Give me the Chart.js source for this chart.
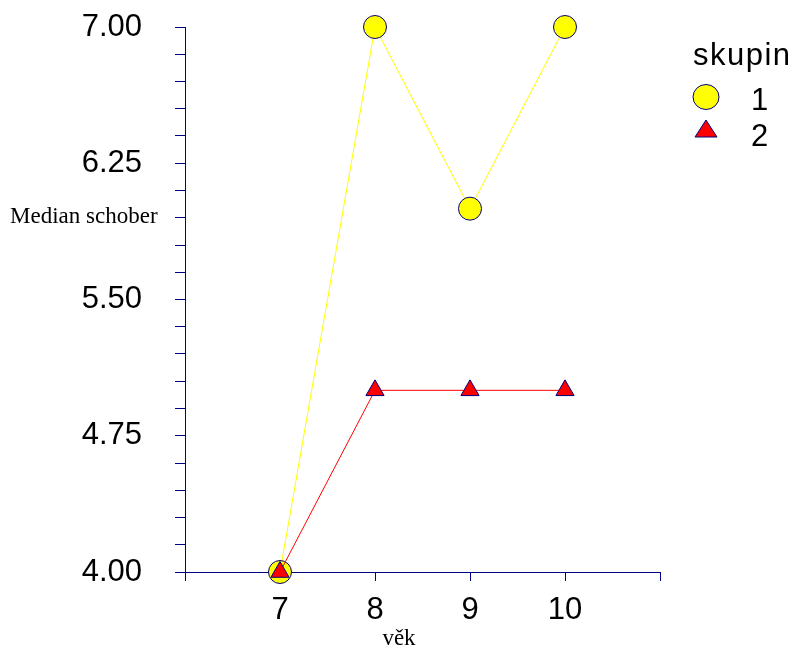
<!DOCTYPE html>
<html><head><meta charset="utf-8">
<script src="https://cdn.jsdelivr.net/npm/chart.js@4"></script>
<style>html,body{margin:0;padding:0;background:#fff;overflow:hidden}</style>
</head><body>
<canvas id="c" width="795" height="646" style="width:795px;height:646px;display:block"></canvas>
<script>
const ages = [7, 8, 9, 10];
const group1 = [4.00, 7.00, 6.00, 7.00];
const group2 = [4.00, 5.00, 5.00, 5.00];
const seriesNames = ['1', '2'];
const legendTitle = 'skupin';
const xTitle = 'věk';
const yTitle = 'Median schober';
const xTickValues = [6, 7, 8, 9, 10, 11];
const xTickLabels = ['', '7', '8', '9', '10', ''];
const yMajorLabels = ['4.00', '4.75', '5.50', '6.25', '7.00'];
const yMin = 4, yMax = 7, yMinorStep = 0.15;

const NAVY = '#000080';

function pts(ys) { return ages.map((a, i) => ({x: a, y: ys[i]})); }

const yTickValues = [];
for (let v = yMin; v <= yMax + 1e-9; v += yMinorStep) yTickValues.push(Math.round(v * 100) / 100);

const overlay = {
  id: 'overlay',
  afterDraw(chart) {
    const ctx = chart.ctx;
    ctx.save();
    ctx.fillStyle = '#000';
    ctx.textBaseline = 'alphabetic';
    ctx.font = '23px "Liberation Serif", "Times New Roman", serif';
    ctx.textAlign = 'left';
    ctx.fillText(yTitle, 10, 223);
    ctx.textAlign = 'center';
    ctx.fillText(xTitle, 399, 645);
    // legend
    ctx.textAlign = 'left';
    ctx.font = '31px "Liberation Sans", Arial, sans-serif';
    ctx.letterSpacing = '1.5px';
    ctx.fillText(legendTitle, 693, 65);
    ctx.letterSpacing = '0px';
    ctx.fillText(seriesNames[0], 751, 110);
    ctx.fillText(seriesNames[1], 751, 146);
    ctx.lineWidth = 1;
    ctx.strokeStyle = NAVY;
    ctx.fillStyle = '#ffff00';
    ctx.beginPath();
    ctx.ellipse(706, 97, 13, 12.5, 0, 0, Math.PI * 2);
    ctx.fill(); ctx.stroke();
    ctx.fillStyle = '#ff0000';
    ctx.beginPath();
    ctx.moveTo(706, 120);
    ctx.lineTo(717, 137);
    ctx.lineTo(695, 137);
    ctx.closePath();
    ctx.fill(); ctx.stroke();
    ctx.restore();
  }
};

new Chart(document.getElementById('c'), {
  type: 'scatter',
  data: {
    datasets: [
      {
        label: seriesNames[0], data: pts(group1), showLine: true,
        borderColor: '#ffff00', borderWidth: 1,
        pointStyle: 'circle', pointRadius: 11.5, pointHoverRadius: 11.5,
        pointBackgroundColor: '#ffff00', pointBorderColor: NAVY, pointBorderWidth: 1,
        clip: false, order: 2
      },
      {
        label: seriesNames[1], data: pts(group2), showLine: true,
        borderColor: '#ff0000', borderWidth: 1,
        pointStyle: 'triangle', pointRadius: 10.5, pointHoverRadius: 10.5,
        pointBackgroundColor: '#ff0000', pointBorderColor: NAVY, pointBorderWidth: 1,
        clip: false, order: 1
      }
    ]
  },
  options: {
    responsive: false, animation: false, devicePixelRatio: 1,
    layout: {padding: {left: 0, top: 27, right: 135, bottom: 0}},
    plugins: {legend: {display: false}, tooltip: {enabled: false}},
    events: [],
    scales: {
      x: {
        type: 'linear', min: 6, max: 11,
        afterBuildTicks: s => { s.ticks = xTickValues.map(v => ({value: v})); },
        afterFit: s => { s.height = 74; s.paddingLeft = 0; s.paddingRight = 0; },
        border: {display: true, color: NAVY, width: 1},
        grid: {drawOnChartArea: false, drawTicks: true, tickLength: 9, color: NAVY, lineWidth: 1},
        ticks: {
          autoSkip: false, maxRotation: 0, padding: 11, color: '#000',
          font: {family: '"Liberation Sans", Arial, sans-serif', size: 31},
          callback: (v) => { const i = xTickValues.indexOf(v); return i >= 0 ? xTickLabels[i] : ''; }
        }
      },
      y: {
        type: 'linear', min: yMin, max: yMax,
        afterBuildTicks: s => { s.ticks = yTickValues.map(v => ({value: v})); },
        afterFit: s => { s.width = 185; s.paddingTop = 0; s.paddingBottom = 0; },
        border: {display: true, color: NAVY, width: 1},
        grid: {drawOnChartArea: false, drawTicks: true, tickLength: 10, color: NAVY, lineWidth: 1},
        ticks: {
          autoSkip: false, padding: 33, color: '#000',
          font: {family: '"Liberation Sans", Arial, sans-serif', size: 31},
          callback: (v) => {
            const m = yMajorLabels.find(l => Math.abs(parseFloat(l) - v) < 1e-6);
            return m || '';
          }
        }
      }
    }
  },
  plugins: [overlay]
});
</script>
</body></html>
